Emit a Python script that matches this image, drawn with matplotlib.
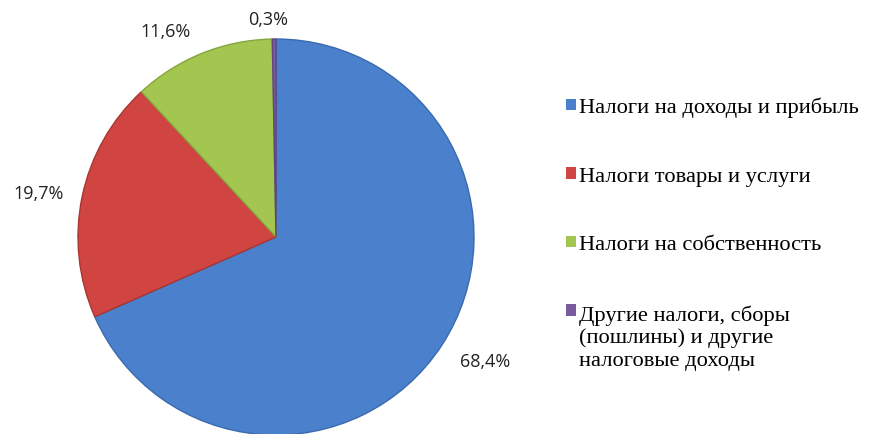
import numpy as np
import matplotlib.pyplot as plt

labels = ['Налоги на доходы и прибыль',
          'Налоги товары и услуги',
          'Налоги на собственность',
          'Другие налоги, сборы\n(пошлины) и другие\nналоговые доходы']
shares = [68.4, 19.7, 11.6, 0.3]
pct_text = ['68,4%', '19,7%', '11,6%', '0,3%']
colors = ['#4a80cc', '#d04541', '#a2c650', '#7a5c9e']
edge_colors = ['#3a6aae', '#a83632', '#86a63e', '#5e4680']
label_dist = [1.23, 1.22, 1.18, 1.10]
label_shift = [2.4, 1.2, 6.3, 1.6]   # degrees, nudges the label off the wedge middle

W, H = 871, 435
fig = plt.figure(figsize=(W / 100, H / 100), dpi=100)
ax = fig.add_axes([0, 0, 1, 1])

cx, cy, r = 276, 435 - 238, 198
wedges, _ = ax.pie(shares, colors=colors, startangle=90, counterclock=False,
                   center=(cx, cy), radius=r, frame=True,
                   wedgeprops=dict(linewidth=1.0))
for w, ec in zip(wedges, edge_colors):
    w.set_edgecolor(ec)

for w, txt, d, s in zip(wedges, pct_text, label_dist, label_shift):
    ang = np.deg2rad((w.theta1 + w.theta2) / 2 + s)
    x = cx + d * r * np.cos(ang)
    y = cy + d * r * np.sin(ang)
    ax.text(x, y, txt, ha='center', va='center', fontsize=13,
            family='Open Sans', color='#222222')

ax.set_xlim(0, W)
ax.set_ylim(0, H)
ax.set_aspect('equal')
ax.axis('off')

leg = fig.legend(wedges, labels, loc='upper left', bbox_to_anchor=(566 / W, 1 - 98 / H),
                 frameon=False, handlelength=0.44, handleheight=0.44, handletextpad=0.12,
                 labelspacing=2.2, borderpad=0, borderaxespad=0,
                 prop=dict(family=['Liberation Serif', 'DejaVu Serif'], size=16.2))
for h in leg.legend_handles:
    h.set_edgecolor('none')
leg.get_texts()[3].set_linespacing(1.22)
# keep the square of the three-line entry next to its first line
leg.legend_handles[3].set_y(leg.legend_handles[3].get_y() + 18.5)

fig.savefig('out.png', dpi=100)
